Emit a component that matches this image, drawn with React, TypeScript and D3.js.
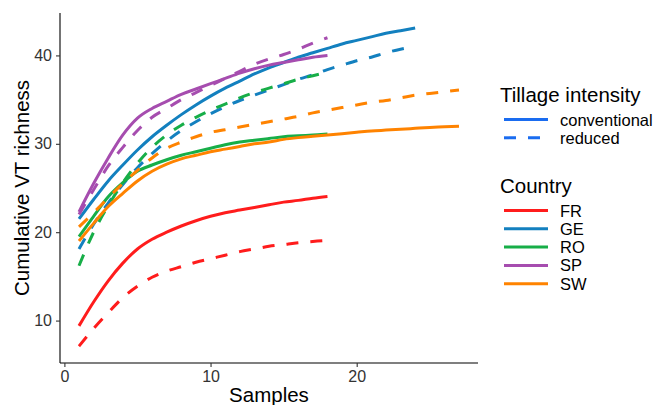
import { useEffect, useRef } from "react";
import * as d3 from "d3";

// Sample counts (x) for each curve are 1..n, where n = values.length
const countries = ["FR", "GE", "RO", "SP", "SW"];
const countryColors = ["#ff1c1c", "#1380bf", "#17ae48", "#a64daf", "#ff8300"];
const tillage = ["conventional", "reduced"];

const frConventional = [9.4, 12.1, 14.5, 16.5, 18.1, 19.2, 20.0, 20.7, 21.3, 21.8, 22.2, 22.5, 22.8, 23.1, 23.4, 23.6, 23.85, 24.05];
const frReduced = [7.1, 9.1, 10.9, 12.6, 13.9, 14.9, 15.6, 16.1, 16.6, 17.0, 17.4, 17.8, 18.1, 18.4, 18.6, 18.8, 18.95, 19.05];
const geConventional = [21.5, 23.7, 25.8, 27.6, 29.3, 30.8, 32.1, 33.3, 34.4, 35.4, 36.3, 37.1, 37.9, 38.6, 39.2, 39.8, 40.3, 40.8, 41.3, 41.7, 42.1, 42.5, 42.8, 43.1];
const geReduced = [18.1, 20.9, 23.3, 25.4, 27.3, 28.9, 30.3, 31.5, 32.5, 33.4, 34.2, 34.9, 35.5, 36.1, 36.7, 37.3, 37.8, 38.4, 38.9, 39.4, 39.8, 40.3, 40.7, 41.0];
const roConventional = [19.5, 21.8, 24.0, 25.6, 26.9, 27.6, 28.2, 28.7, 29.1, 29.5, 29.9, 30.2, 30.4, 30.6, 30.8, 30.9, 31.0, 31.1];
const roReduced = [16.2, 20.0, 23.0, 25.6, 27.8, 29.6, 31.0, 32.1, 33.0, 33.8, 34.5, 35.2, 35.8, 36.3, 36.8, 37.3, 37.7, 38.1];
const spConventional = [22.3, 25.5, 28.4, 31.0, 32.9, 34.0, 34.8, 35.6, 36.2, 36.8, 37.4, 38.0, 38.5, 38.9, 39.2, 39.5, 39.8, 40.0];
const spReduced = [22.0, 24.8, 27.5, 29.6, 31.5, 33.0, 34.0, 35.0, 35.8, 36.6, 37.4, 38.2, 39.0, 39.6, 40.1, 40.7, 41.4, 42.0];
const swConventional = [19.0, 21.0, 22.9, 24.4, 25.8, 26.9, 27.7, 28.3, 28.7, 29.1, 29.4, 29.7, 30.0, 30.2, 30.5, 30.7, 30.85, 31.0, 31.15, 31.3, 31.45, 31.55, 31.65, 31.75, 31.85, 31.92, 32.0];
const swReduced = [20.6, 22.2, 23.9, 25.5, 27.0, 28.4, 29.5, 30.2, 30.8, 31.3, 31.6, 31.9, 32.2, 32.5, 32.8, 33.1, 33.5, 33.8, 34.1, 34.4, 34.7, 34.9, 35.2, 35.5, 35.7, 35.9, 36.1];

const xTicks = [0, 10, 20];
const yTicks = [10, 20, 30, 40];

const W = 656;
const H = 405;

export default function App() {
    const ref = useRef<SVGSVGElement | null>(null);

    useEffect(() => {
        const svg = d3.select(ref.current);
        svg.selectAll("*").remove();

        const curves = [
            { country: "FR", type: "conventional", values: frConventional },
            { country: "FR", type: "reduced", values: frReduced },
            { country: "GE", type: "conventional", values: geConventional },
            { country: "GE", type: "reduced", values: geReduced },
            { country: "RO", type: "conventional", values: roConventional },
            { country: "RO", type: "reduced", values: roReduced },
            { country: "SP", type: "conventional", values: spConventional },
            { country: "SP", type: "reduced", values: spReduced },
            { country: "SW", type: "conventional", values: swConventional },
            { country: "SW", type: "reduced", values: swReduced },
        ];

        const color = d3.scaleOrdinal<string, string>().domain(countries).range(countryColors);
        const dash = d3.scaleOrdinal<string, string>().domain(tillage).range(["none", "12 12"]);

        // plot panel
        const left = 60, right = 478, top = 13, bottom = 363;
        const x = d3.scaleLinear().domain([-0.3, 28.3]).range([left, right]);
        const y = d3.scaleLinear().domain([5.2, 44.8]).range([bottom, top]);

        const font = "'Liberation Sans', Arial, Helvetica, sans-serif";
        svg.style("font-family", font);

        // axes
        const xAxis = svg.append("g")
            .attr("transform", `translate(0, ${bottom})`)
            .call(d3.axisBottom(x).tickValues(xTicks).tickSize(4).tickPadding(4).tickSizeOuter(0));
        const yAxis = svg.append("g")
            .attr("transform", `translate(${left}, 0)`)
            .call(d3.axisLeft(y).tickValues(yTicks).tickSize(4).tickPadding(4).tickSizeOuter(0));

        [xAxis, yAxis].forEach(a => {
            a.select(".domain").attr("stroke", "#000").attr("stroke-width", 1.1);
            a.selectAll(".tick line").attr("stroke", "#333").attr("stroke-width", 1.1);
            a.selectAll(".tick text")
                .attr("fill", "#333")
                .style("font-size", "16px")
                .style("font-family", font);
        });
        // extend axis lines to panel edges
        xAxis.select(".domain").attr("d", `M${left},0H${right}`);
        yAxis.select(".domain").attr("d", `M0,${top}V${bottom}`);

        // lines
        const line = d3.line<number>()
            .x((_, i) => x(i + 1))
            .y(d => y(d))
            .curve(d3.curveMonotoneX);

        svg.append("g")
            .selectAll("path")
            .data(curves)
            .enter()
            .append("path")
            .attr("d", d => line(d.values))
            .attr("fill", "none")
            .attr("stroke", d => color(d.country))
            .attr("stroke-width", 3)
            .attr("stroke-dasharray", d => dash(d.type));

        // axis titles
        svg.append("text")
            .attr("x", (left + right) / 2)
            .attr("y", 401.5)
            .attr("text-anchor", "middle")
            .style("font-size", "20.5px")
            .attr("fill", "#000")
            .text("Samples");

        svg.append("text")
            .attr("transform", `translate(28.5, ${(top + bottom) / 2}) rotate(-90)`)
            .attr("text-anchor", "middle")
            .style("font-size", "20.5px")
            .attr("fill", "#000")
            .text("Cumulative VT richness");

        // legends
        const legend = svg.append("g");
        legend.append("text")
            .attr("x", 500).attr("y", 102)
            .style("font-size", "20.5px")
            .text("Tillage intensity");

        tillage.forEach((t, i) => {
            const yy = 119.5 + i * 18.3;
            legend.append("line")
                .attr("x1", 504).attr("x2", 548)
                .attr("y1", yy).attr("y2", yy)
                .attr("stroke", "#1a6cf0")
                .attr("stroke-width", 3)
                .attr("stroke-dasharray", dash(t));
            legend.append("text")
                .attr("x", 560).attr("y", yy + 6)
                .style("font-size", "16.5px")
                .attr("fill", "#000")
                .text(t);
        });

        legend.append("text")
            .attr("x", 500).attr("y", 193)
            .style("font-size", "20.5px")
            .text("Country");

        countries.forEach((c, i) => {
            const yy = 210.5 + i * 18.3;
            legend.append("line")
                .attr("x1", 504).attr("x2", 548)
                .attr("y1", yy).attr("y2", yy)
                .attr("stroke", color(c))
                .attr("stroke-width", 3);
            legend.append("text")
                .attr("x", 560).attr("y", yy + 6)
                .style("font-size", "16.5px")
                .attr("fill", "#000")
                .text(c);
        });
    }, []);

    return (
        <div style={{ position: "absolute", left: 0, top: 0, width: W, height: H, background: "#fff" }}>
            <svg ref={ref} width={W} height={H} style={{ display: "block" }}></svg>
        </div>
    );
}
